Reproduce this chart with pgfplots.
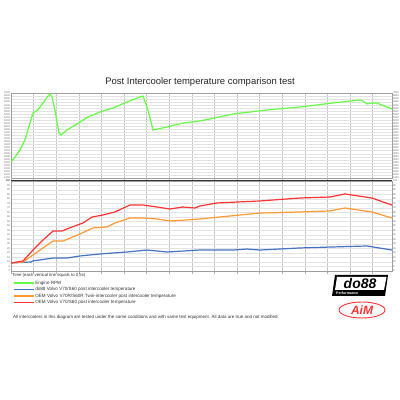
\documentclass[border=0pt]{standalone}
\usepackage{pgfplots}
\pgfplotsset{compat=1.18}
\usepackage{fontspec}
\setmainfont{Liberation Sans}

\definecolor{rpmgreen}{HTML}{66FF44}
\definecolor{do88blue}{HTML}{4472C4}
\definecolor{oemorange}{HTML}{FF9933}
\definecolor{oemred}{HTML}{FF3333}

\pgfplotsset{
  panel/.style={
    scale only axis, width=381bp,
    xmin=0, xmax=8.43, xtick={0,0.5,...,8.5}, xticklabels={},
    grid=major,
    x grid style={gray!45, line width=0.4bp},
    y grid style={gray!22, line width=0.4bp},
    axis line style={gray!75, line width=0.6bp},
    ytick style={draw=none},
    yticklabel style={font=\fontsize{2.6}{3}\selectfont, text=gray!80!black, inner sep=0.8bp},
    /pgf/number format/assume math mode=true,
    /pgf/number format/1000 sep={},
  },
  rightlabels/.style={
    scale only axis, width=381bp, xmin=0, xmax=8.43,
    hide x axis, axis y line*=right,
    axis line style={gray!75, line width=0.6bp},
    ytick style={draw=none},
    yticklabel style={font=\fontsize{2.6}{3}\selectfont, text=gray!80!black, inner sep=0.8bp},
    /pgf/number format/assume math mode=true,
    /pgf/number format/1000 sep={},
  },
}

\begin{document}
\begin{tikzpicture}
\path[use as bounding box] (0,0) rectangle (400bp,400bp);

\node[font=\fontsize{9.5}{11}\selectfont, text=black!85] at (200bp,318bp) {Post Intercooler temperature comparison test};

% engine rpm panel
\begin{axis}[panel, at={(11bp,222bp)}, anchor=south west, height=85bp,
  ymin=1400, ymax=7000, ytick={1400,1600,...,7000}, xtick style={draw=none}]
\addplot[rpmgreen, line width=1.2bp] coordinates {
(0,2454) (0.088,2783) (0.199,3245) (0.310,3903) (0.420,5023) (0.487,5682)
(0.597,5880) (0.708,6341) (0.819,6802) (0.863,6934) (0.907,6736) (0.973,5880)
(1.018,5089) (1.062,4365) (1.106,4233) (1.239,4562) (1.460,4958) (1.703,5419)
(1.969,5748) (2.256,6012) (2.566,6407) (2.854,6736) (2.920,6802) (3.031,5880)
(3.141,4562) (3.451,4760) (3.805,5023) (4.181,5155) (4.911,5616) (5.663,5880)
(6.393,6077) (7.123,6341) (7.720,6539) (7.786,6473) (7.875,6275) (7.985,6341)
(8.096,6341) (8.428,5946)
};
\end{axis}
\begin{axis}[rightlabels, at={(11bp,222bp)}, anchor=south west, height=85bp,
  ymin=1400, ymax=7000, ytick={1400,1600,...,7000}]
\end{axis}

% temperature panel
\begin{axis}[panel, at={(11bp,129bp)}, anchor=south west, height=90bp,
  ymin=0, ymax=100, ytick={0,5,...,100},
  xtick align=outside, x tick style={draw=gray!60, line width=0.4bp}, major tick length=3bp,
  legend cell align=left,
  legend image code/.code={\draw[#1, line width=1.6bp] (0bp,0bp) -- (20bp,0bp);},
  legend style={at={(0.004,-0.095)}, anchor=north west, draw=none, fill=none,
    font=\fontsize{4.6}{5.5}\selectfont, text=black!80, inner sep=0pt, row sep=0.1bp,
    nodes={inner sep=1bp, text height=3.4bp, text depth=1bp}},
  extra y ticks={100}, extra y tick style={grid=none},
]
\addlegendimage{rpmgreen, line width=1bp}
\addlegendentry{Engine RPM}
\addplot[do88blue, line width=1.2bp] coordinates {
(0,8.9) (0.442,10) (0.487,11.2) (0.929,14.4) (1.239,14.4) (1.526,16.7) (1.969,18.9)
(2.256,20) (2.566,21.1) (3.008,23.3) (3.451,21.1) (3.805,22.2) (4.181,23.3)
(4.911,23.3) (5.221,24.4) (5.508,23.3) (6.393,25.6) (7.123,26.7) (7.875,27.8)
(8.428,23.3)
};
\addlegendentry{do88 Volvo V70/S60 post intercooler temperature}
\addplot[oemorange, line width=1.2bp] coordinates {
(0,8.9) (0.265,10) (0.487,17.8) (0.708,25.6) (0.929,33.3) (1.150,33.3) (1.526,41.1)
(1.814,47.8) (2.124,48.9) (2.300,53.3) (2.632,58.9) (2.920,58.9) (3.230,57.8)
(3.517,55.6) (3.893,56.7) (4.181,57.8) (5.508,64.4) (6.393,65.6) (7.056,66.7)
(7.388,70) (7.985,65.6) (8.428,58.9)
};
\addlegendentry{OEM Volvo V70R/S60R Twin-intercooler post intercooler temperature}
\addplot[oemred, line width=1.2bp] coordinates {
(0,8.9) (0.265,11.1) (0.487,23.3) (0.708,34.4) (0.929,44.4) (1.128,44.4) (1.349,48.9)
(1.593,53.3) (1.792,60) (2.035,62.2) (2.300,65.6) (2.632,73.3) (2.920,73.3)
(3.230,71.1) (3.517,68.9) (3.805,71.1) (4.070,70) (4.181,72.2) (4.557,75.6)
(5.508,77.8) (6.393,81.1) (7.056,82.2) (7.388,85.6) (7.985,81.1) (8.428,73.3)
};
\addlegendentry{OEM Volvo V70/S60 post intercooler temperature}
\end{axis}
\begin{axis}[rightlabels, at={(11bp,129bp)}, anchor=south west, height=90bp,
  ymin=0, ymax=100, ytick={0,5,...,100}]
\end{axis}

% separator line between the panels
\draw[black!80, line width=1bp] (11bp,219bp) -- (392bp,219bp);

\node[anchor=west, inner sep=0pt, font=\fontsize{4.3}{5}\selectfont, text=black!80] at (12bp,125bp)
  {Time (each vertical line equals to 0,5s)};
\node[anchor=west, inner sep=0pt, font=\fontsize{4.5}{5.5}\selectfont, text=black!80] at (13bp,83bp)
  {All intercoolers in this diagram are tested under the same conditions and with same test equipment. All data are true and not modified.};

% do88 logo
\fill[black] (332bp,104bp) -- (385bp,104bp) -- (388bp,125bp) -- (335bp,125bp) -- cycle;
\fill[white] (335bp,110bp) -- (384bp,110bp) -- (386.5bp,123bp) -- (337bp,123bp) -- cycle;
\node[font=\fontsize{14}{14}\bfseries\itshape, inner sep=0pt] at (360bp,116.5bp) {do88};
\node[font=\fontsize{3.6}{4}\bfseries, text=white, inner sep=0pt, anchor=west] at (336bp,107bp) {Performance};

% AiM logo
\draw[oemred, line width=0.9bp] (362bp,90bp) ellipse (23bp and 8bp);
\node[font=\fontsize{12}{12}\bfseries\itshape, text=oemred, inner sep=0pt] at (362bp,90bp) {AiM};
\end{tikzpicture}
\end{document}
